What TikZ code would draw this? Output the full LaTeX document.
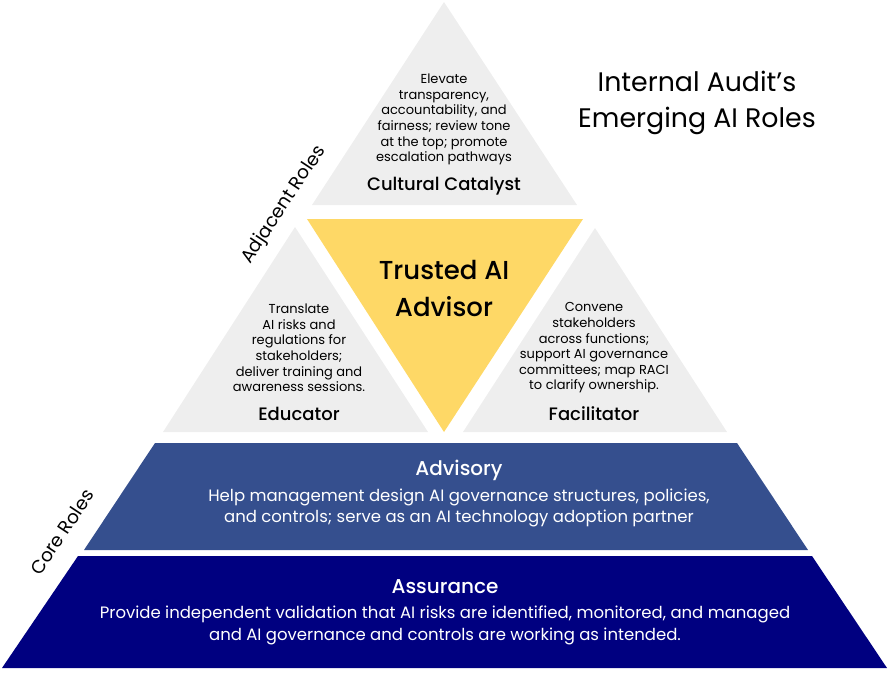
\documentclass[tikz,border=0pt]{standalone}
\usepackage{fontspec}
\setmainfont{Poppins}
\newfontfamily\pmed{Poppins Medium}
\definecolor{grayfill}{HTML}{EEEEEE}
\definecolor{yellowfill}{HTML}{FED866}
\definecolor{advblue}{HTML}{354F8E}
\definecolor{navyfill}{HTML}{000080}
\begin{document}
\begin{tikzpicture}[x=1pt,y=-1pt,
  small/.style={align=center,font=\fontsize{13}{15.6}\selectfont,inner sep=0pt},
  role/.style={font=\pmed\fontsize{18}{20}\selectfont,inner sep=0pt},
  big/.style={align=center,font=\pmed\fontsize{26}{37}\selectfont,inner sep=0pt},
  titletext/.style={align=center,font=\fontsize{26.8}{36}\selectfont,inner sep=0pt},
  band/.style={align=center,font=\fontsize{16.5}{21.5}\selectfont,text=white,inner sep=0pt},
  bandhead/.style={font=\pmed\fontsize{20}{22}\selectfont,text=white,inner sep=0pt},
  side/.style={font=\fontsize{18.5}{20}\selectfont,inner sep=0pt,rotate=56.5}]
\useasboundingbox (0,0) rectangle (888,677);
% shapes
\fill[grayfill] (444,2) -- (312,205) -- (577,205) -- cycle;
\fill[yellowfill] (307,219) -- (583,219) -- (444,432) -- cycle;
\fill[grayfill] (295,227) -- (163,432) -- (428,432) -- cycle;
\fill[grayfill] (595,228) -- (463,432) -- (727,432) -- cycle;
\fill[advblue] (155,443) -- (737,443) -- (808,550) -- (84,550) -- cycle;
\fill[navyfill] (78,556) -- (812,556) -- (887,668) -- (2,668) -- cycle;
% title
\node[titletext] (title) at (697,103) {Internal Audit’s\\Emerging AI Roles};
% cultural catalyst
\node[small] (cctext) at (444,119.5) {Elevate\\transparency,\\accountability, and\\fairness; review tone\\at the top; promote\\escalation pathways};
\node[role] (cc) at (444,186) {Cultural Catalyst};
% trusted advisor
\node[big] (ta) at (444,288.5) {Trusted AI\\Advisor};
% educator
\node[small] (edtext) at (299,348) {Translate\\AI risks and\\regulations for\\stakeholders;\\deliver training and\\awareness sessions.};
\node[role] (ed) at (299,414) {Educator};
% facilitator
\node[small] (fatext) at (594,348) {Convene\\stakeholders\\across functions;\\support AI governance\\committees; map RACI\\to clarify ownership.};
\node[role] (fa) at (594,414) {Facilitator};
% advisory
\node[bandhead] (adv) at (459,470) {Advisory};
\node[band] (advtext) at (459,508) {Help management design AI governance structures, policies,\\and controls; serve as an AI technology adoption partner};
% assurance
\node[bandhead] (asr) at (445,587) {Assurance};
\node[band] (asrtext) at (445,625.5) {Provide independent validation that AI risks are identified, monitored, and managed\\and AI governance and controls are working as intended.};
% side labels
\node[side] (adj) at (284,205) {Adjacent Roles};
\node[side] (core) at (62,532) {Core Roles};
\end{tikzpicture}
\end{document}
